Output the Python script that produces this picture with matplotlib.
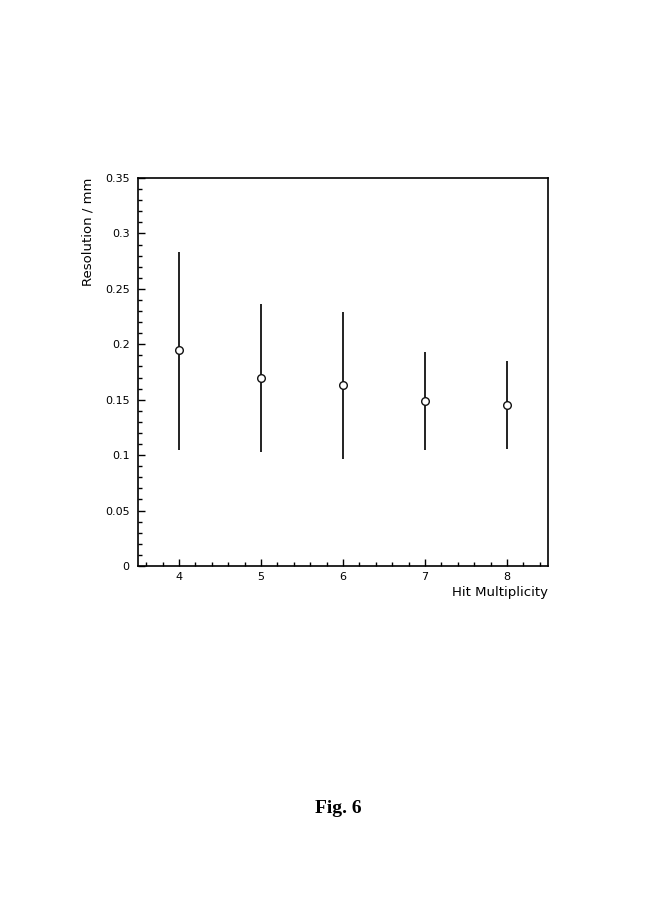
import matplotlib
matplotlib.use("Agg")
import matplotlib.pyplot as plt
from matplotlib.ticker import MultipleLocator

multiplicity = [4, 5, 6, 7, 8]
resolution = [0.195, 0.170, 0.163, 0.149, 0.1455]
err_low = [0.1046, 0.103, 0.0965, 0.1046, 0.1058]
err_high = [0.283, 0.236, 0.229, 0.193, 0.185]

W, H = 645, 913
fig = plt.figure(figsize=(W / 100, H / 100), dpi=100)
ax = fig.add_axes([138 / W, 1 - 566 / H, (548 - 138) / W, (566 - 178) / H])

lower = [r - l for r, l in zip(resolution, err_low)]
upper = [h - r for r, h in zip(resolution, err_high)]
ax.errorbar(multiplicity, resolution, yerr=[lower, upper], fmt='o', color='#222222',
            ecolor='#222222', elinewidth=1.4, capsize=0, markersize=5.5,
            markerfacecolor='white', markeredgecolor='#111111', markeredgewidth=1.0)

ax.set_xlim(3.5, 8.5)
ax.set_ylim(0, 0.35)
ax.xaxis.set_major_locator(MultipleLocator(1))
ax.xaxis.set_minor_locator(MultipleLocator(0.2))
ax.yaxis.set_minor_locator(MultipleLocator(0.01))
ax.set_yticks([0, 0.05, 0.1, 0.15, 0.2, 0.25, 0.3, 0.35])
ax.set_yticklabels(['0', '0.05', '0.1', '0.15', '0.2', '0.25', '0.3', '0.35'])
ax.tick_params(which='both', direction='in', top=False, right=False, labelsize=8, width=1)
ax.tick_params(axis='y', which='major', length=5, pad=6)
ax.tick_params(axis='x', which='major', length=5, pad=4)
ax.tick_params(which='minor', length=3)
for s in ax.spines.values():
    s.set_linewidth(1.2)

fig.text(548 / W, 1 - 592 / H, 'Hit Multiplicity', ha='right', va='center', fontsize=9.5)
fig.text(88 / W, 1 - 178 / H, 'Resolution / mm', ha='center', va='top', rotation=90, fontsize=9.5)
fig.text(338 / W, 1 - 808 / H, 'Fig. 6', ha='center', va='center', fontsize=14,
         family='Liberation Serif', fontweight='bold')

fig.savefig('out.png', dpi=100)
